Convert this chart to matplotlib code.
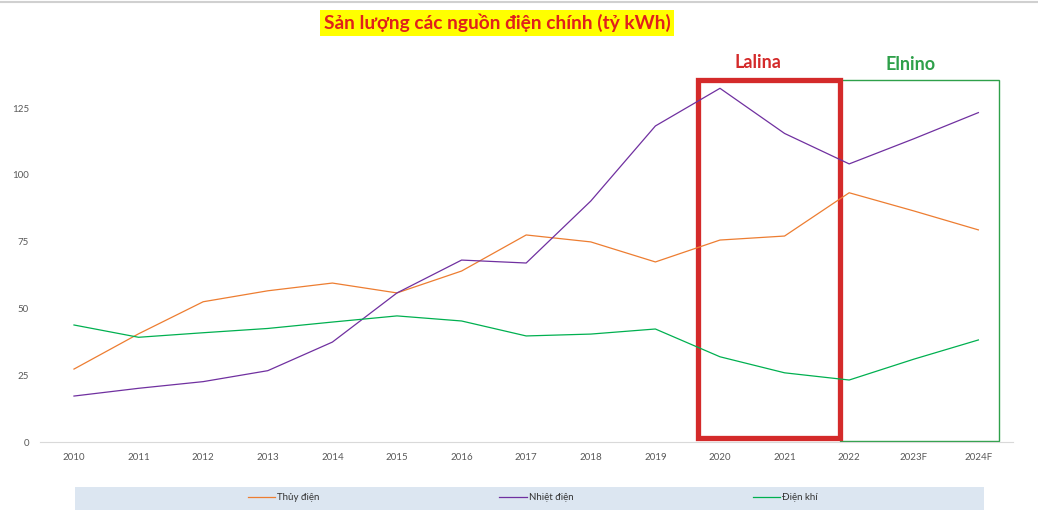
import matplotlib.pyplot as plt
from matplotlib.patches import Rectangle

years = ["2010", "2011", "2012", "2013", "2014", "2015", "2016", "2017",
         "2018", "2019", "2020", "2021", "2022", "2023F", "2024F"]
thuy_dien = [27.3, 40.5, 52.5, 56.6, 59.5, 55.8, 64.0, 77.5, 74.9, 67.4,
             75.6, 77.1, 93.3, 86.5, 79.4]
nhiet_dien = [17.2, 20.1, 22.6, 26.7, 37.4, 55.8, 68.1, 67.0, 90.2, 118.3,
              132.4, 115.5, 104.1, 113.5, 123.3]
dien_khi = [43.8, 39.2, 40.9, 42.5, 44.9, 47.2, 45.3, 39.7, 40.4, 42.3,
            31.9, 25.9, 23.2, 31.0, 38.2]
y_ticks = [0, 25, 50, 75, 100, 125]

plt.rcParams["font.family"] = ["Lato", "DejaVu Sans"]

fig = plt.figure(figsize=(10.38, 5.29), dpi=100)
ax = fig.add_axes([40 / 1038, 87 / 529, 973 / 1038, 374 / 529])

x = list(range(len(years)))
ax.plot(x, thuy_dien, color="#ed7d31", lw=0.9, label="Thủy điện")
ax.plot(x, nhiet_dien, color="#7030a0", lw=0.9, label="Nhiệt điện")
ax.plot(x, dien_khi, color="#00b050", lw=0.9, label="Điện khí")

ax.set_xlim(-0.526, 14.536)
ax.set_ylim(0, 140)
ax.set_xticks(x)
ax.set_xticklabels(years)
ax.set_yticks(y_ticks)
ax.tick_params(length=0, labelsize=7, colors="#595959", pad=8)
for s in ["top", "right", "left"]:
    ax.spines[s].set_visible(False)
ax.spines["bottom"].set_color("#d9d9d9")

# La Nina / El Nino boxes
ax.add_patch(Rectangle((11.86, 0.4), 14.32 - 11.86, 135.2, fill=False,
                       edgecolor="#2ea04a", lw=1.0, clip_on=False))
ax.add_patch(Rectangle((9.66, 1.4), 11.86 - 9.66, 134.0, fill=False,
                       edgecolor="#d42a2a", lw=3.8, clip_on=False))
fig.text(758 / 1038, 1 - 62 / 529, "Lalina", color="#d42a2a", fontsize=13,
         fontweight="bold", ha="center", va="center")
fig.text(911 / 1038, 1 - 64 / 529, "Elnino", color="#2ea04a", fontsize=13,
         fontweight="bold", ha="center", va="center")

# title
fig.text(497 / 1038, 1 - 23 / 529, "Sản lượng các nguồn điện chính (tỷ kWh)",
         color="#e0201c", fontsize=13.8, fontweight="bold", ha="center",
         va="center", bbox=dict(facecolor="#ffff00", edgecolor="none", pad=2.5))

# top border line
fig.add_artist(plt.Line2D([0, 1], [1 - 2 / 529, 1 - 2 / 529],
                          color="#d0d0d0", lw=1.5))

# legend band
fig.add_artist(Rectangle((75 / 1038, 1 - 510 / 529), 909 / 1038, 23 / 529,
                         facecolor="#dce6f1", edgecolor="none",
                         transform=fig.transFigure, zorder=0))
fig.legend(loc="center", bbox_to_anchor=(533 / 1038, 1 - 498 / 529), ncol=3,
           frameon=False, fontsize=7, handlelength=2.8, handletextpad=0.2,
           columnspacing=18.5, labelcolor="#333333")

fig.savefig("out.png", dpi=100)
